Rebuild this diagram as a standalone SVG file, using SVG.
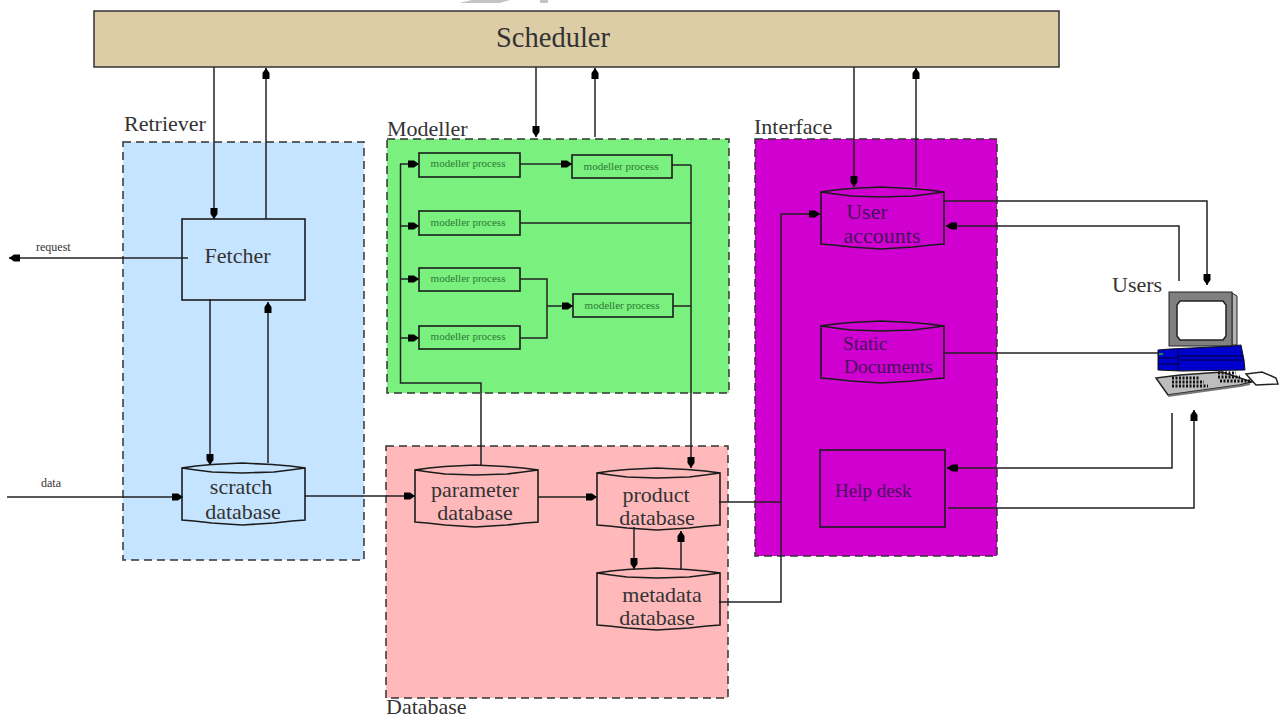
<svg xmlns="http://www.w3.org/2000/svg" width="1280" height="719" viewBox="0 0 1280 719">
<style>
text{font-family:"Liberation Serif","Times New Roman",serif;fill:#333}
.lab{font-size:22px}
.mid{font-size:22px;text-anchor:middle}
.small{font-size:12px}
.mp{font-size:11px;text-anchor:middle;fill:#2a7a34}
.ink{fill:#46105c}
.group{stroke:#333;stroke-width:1.5;stroke-dasharray:8 5}
.box{fill:none;stroke:#1c1c1c;stroke-width:1.6}
.c{fill:none;stroke:#222;stroke-width:1.5}
.a{fill:none;stroke:#222;stroke-width:1.5;marker-end:url(#ah)}
</style>
<defs>
<marker id="ah" markerUnits="userSpaceOnUse" markerWidth="14" markerHeight="12" refX="11" refY="5" orient="auto">
<path d="M0,1.500 L6,1.500 L11,5 L6,8.500 L0,8.500 Z" fill="#000"/>
</marker>
<g id="cyl">
<path class="box" d="M0,5 L0,57 L12,58 L30,60 L60,62 L92,60 L110,58 L123,57 L123,5 L108,3 L90,1.500 L60,0 L30,1.500 L14,3 Z"/>
<path class="box" d="M0,5 L14,7 L30,9 L60,10 L92,9 L108,7 L123,5"/>
</g>
</defs>
<rect width="1280" height="719" fill="#fff"/>
<path d="M459,3 L500,3 L510,0 L472,0 Z M540,0 H548 V3 H540 Z" fill="#c4c4c4"/>

<g id="retriever-group"><rect class="group" x="123" y="142" width="241" height="418" fill="#c5e4ff"/><text class="lab" x="124" y="131">Retriever</text></g>
<g id="modeller-group"><rect class="group" x="387" y="139" width="342" height="254" fill="#7af07e"/><text class="lab" x="387" y="136">Modeller</text></g>
<g id="database-group"><rect class="group" x="386" y="446" width="342" height="252" fill="#ffb9bb"/><text class="lab" x="386" y="714">Database</text></g>
<g id="interface-group"><rect class="group" x="755" y="139" width="242" height="417" fill="#d000d0"/><text class="lab" x="754" y="134">Interface</text></g>

<g id="connectors">
<path class="a" d="M214,67 V219"/>
<path class="a" d="M266,219 V68"/>
<path class="a" d="M536,67 V137"/>
<path class="a" d="M595,137 V68"/>
<path class="a" d="M854,67 V187"/>
<path class="a" d="M916,187 V68"/>
<path class="a" d="M188,258 H9"/>
<path class="a" d="M7,497 H183"/>
<path class="a" d="M210,299 V465"/>
<path class="a" d="M268,463 V302"/>
<path class="a" d="M305,496 H415"/>
<path class="a" d="M538,497 H597"/>
<path class="a" d="M634,527 V569"/>
<path class="a" d="M681,569 V531"/>
<path class="c" d="M481,465 V383 H400.500 V164"/>
<path class="a" d="M400,164 H419"/>
<path class="a" d="M400,226 H419"/>
<path class="a" d="M400,279 H419"/>
<path class="a" d="M400,338 H419"/>
<path class="a" d="M520,164 H572"/>
<path class="c" d="M520,279 H547 V338 H520"/>
<path class="a" d="M547,306 H573"/>
<path class="c" d="M672,165 H691"/>
<path class="c" d="M520,223 H691"/>
<path class="c" d="M673,306 H691"/>
<path class="a" d="M691,165 V468"/>
<path class="c" d="M719,502 H781"/>
<path class="a" d="M719,602 H781 V214 H820"/>
<path class="a" d="M944,201 H1207 V285"/>
<path class="a" d="M1179,281 V226 H946"/>
<path class="c" d="M945,353 H1158"/>
<path class="a" d="M1172,413 V468 H947"/>
<path class="a" d="M948,508 H1194 V410"/>
</g>

<g id="scheduler"><rect x="94" y="11" width="965" height="56" fill="#dccda6" stroke="#333" stroke-width="1.500"/><text x="553" y="47" font-size="28.500" text-anchor="middle">Scheduler</text></g>
<g id="fetcher"><rect class="box" x="182" y="219" width="123" height="81"/><text class="mid" x="237.500" y="263">Fetcher</text></g>
<g id="scratch-database"><use href="#cyl" x="182" y="463"/><text class="mid" x="241" y="494">scratch</text><text class="mid" x="243" y="519">database</text></g>
<g id="parameter-database"><use href="#cyl" x="415" y="465"/><text class="mid" x="475" y="497">parameter</text><text class="mid" x="475" y="520">database</text></g>
<g id="product-database"><use href="#cyl" x="597" y="468"/><text class="mid" x="656" y="502">product</text><text class="mid" x="657" y="525">database</text></g>
<g id="metadata-database"><use href="#cyl" x="597" y="568"/><text class="mid" x="662" y="602">metadata</text><text class="mid" x="657" y="625">database</text></g>
<g id="user-accounts"><use href="#cyl" x="821" y="187"/><text class="mid ink" x="867" y="219">User</text><text class="mid ink" x="882" y="243">accounts</text></g>
<g id="static-documents"><use href="#cyl" x="821" y="321"/><text class="ink" x="843" y="350" font-size="19.500">Static</text><text class="ink" x="844" y="373" font-size="19.500">Documents</text></g>
<g id="help-desk"><rect class="box" x="820" y="450" width="125" height="77"/><text class="ink" x="835" y="497" font-size="19">Help desk</text></g>

<g id="mp1"><rect class="box" x="419" y="153" width="101" height="24"/><text class="mp" x="468" y="167">modeller process</text></g>
<g id="mp2"><rect class="box" x="572" y="155" width="100" height="23"/><text class="mp" x="621" y="170">modeller process</text></g>
<g id="mp3"><rect class="box" x="419" y="211" width="101" height="24"/><text class="mp" x="468" y="226">modeller process</text></g>
<g id="mp4"><rect class="box" x="419" y="268" width="101" height="23"/><text class="mp" x="468" y="282">modeller process</text></g>
<g id="mp5"><rect class="box" x="573" y="294" width="100" height="23"/><text class="mp" x="622" y="309">modeller process</text></g>
<g id="mp6"><rect class="box" x="419" y="326" width="101" height="23"/><text class="mp" x="468" y="340">modeller process</text></g>

<text class="small" x="36" y="251">request</text>
<text class="small" x="41" y="487">data</text>

<g id="users">
<text class="lab" x="1112" y="292">Users</text>
<path d="M1232,293 L1237,296 V345 H1232 Z" fill="#b4b4b4" stroke="#222"/>
<rect x="1169" y="292" width="63" height="54" fill="#808080" stroke="#222"/>
<path d="M1180,301 H1223 L1226,305 V336 L1223,340 H1180 L1177,336 V305 Z" fill="#fff" stroke="#222" stroke-width="1.500"/>
<path d="M1158,350 L1170,349 L1232,346 L1241,345 L1244,360 L1245,370 L1181,371 L1158,370 Z" fill="#0000cc" stroke="#111"/>
<path d="M1158,358 H1178 M1178,356 H1243 M1158,364 H1180 M1180,360 H1244 M1178,350 V370" stroke="#000060" stroke-width="1.500" fill="none"/>
<rect x="1159" y="353" width="4" height="2" fill="#0a9a3a"/>
<path d="M1156,378 L1180,375 L1222,372 L1252,382 L1240,385 L1168,395 Z" fill="#bdbdbd" stroke="#222" stroke-width="1.500"/>
<path d="M1168,396 L1240,386 L1250,384" stroke="#777" stroke-width="2" fill="none"/>
<path d="M1172,378 H1200 M1172,382 H1204 M1172,386 H1208 M1218,373 H1236 M1218,377 H1240 M1220,381 H1250" stroke="#111" stroke-width="3" stroke-dasharray="2 1.500" fill="none"/>
<path d="M1246,374 L1262,372 L1276,378 L1278,384 L1256,385 Z" fill="#fff" stroke="#222" stroke-width="1.500"/>
</g>
</svg>
